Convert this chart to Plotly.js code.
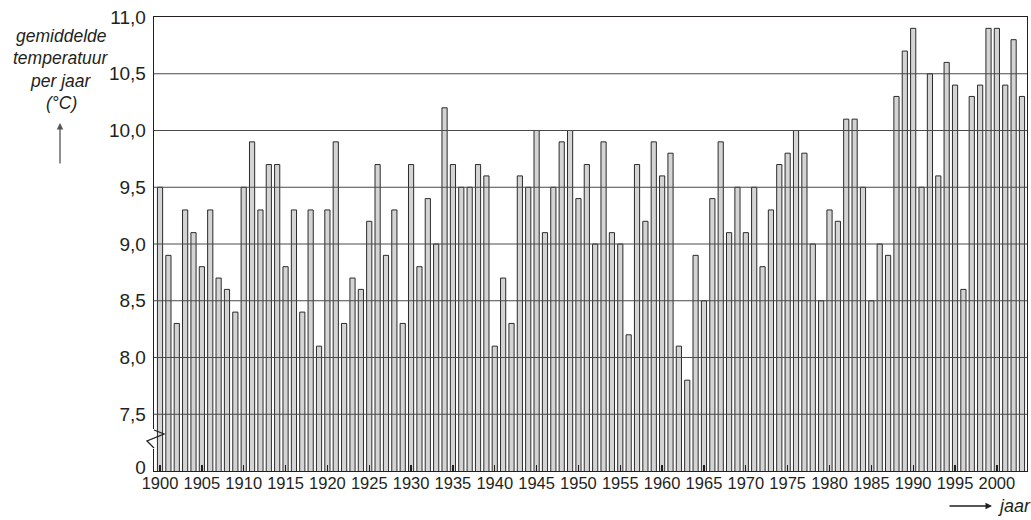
<!DOCTYPE html>
<html>
<head>
<meta charset="utf-8">
<script src="https://cdn.plot.ly/plotly-3.0.1.min.js"></script>
<style>
  html, body { margin: 0; padding: 0; background: #ffffff; }
  #chart { width: 1031px; height: 520px; }
</style>
</head>
<body>
<div id="chart"></div>
<script>
// ---- data ----
const years = [
  1900,1901,1902,1903,1904,1905,1906,1907,1908,1909,
  1910,1911,1912,1913,1914,1915,1916,1917,1918,1919,
  1920,1921,1922,1923,1924,1925,1926,1927,1928,1929,
  1930,1931,1932,1933,1934,1935,1936,1937,1938,1939,
  1940,1941,1942,1943,1944,1945,1946,1947,1948,1949,
  1950,1951,1952,1953,1954,1955,1956,1957,1958,1959,
  1960,1961,1962,1963,1964,1965,1966,1967,1968,1969,
  1970,1971,1972,1973,1974,1975,1976,1977,1978,1979,
  1980,1981,1982,1983,1984,1985,1986,1987,1988,1989,
  1990,1991,1992,1993,1994,1995,1996,1997,1998,1999,
  2000,2001,2002,2003
];
const temperatures = [
  9.5, 8.9, 8.3, 9.3, 9.1, 8.8, 9.3, 8.7, 8.6, 8.4,
  9.5, 9.9, 9.3, 9.7, 9.7, 8.8, 9.3, 8.4, 9.3, 8.1,
  9.3, 9.9, 8.3, 8.7, 8.6, 9.2, 9.7, 8.9, 9.3, 8.3,
  9.7, 8.8, 9.4, 9.0, 10.2, 9.7, 9.5, 9.5, 9.7, 9.6,
  8.1, 8.7, 8.3, 9.6, 9.5, 10.0, 9.1, 9.5, 9.9, 10.0,
  9.4, 9.7, 9.0, 9.9, 9.1, 9.0, 8.2, 9.7, 9.2, 9.9,
  9.6, 9.8, 8.1, 7.8, 8.9, 8.5, 9.4, 9.9, 9.1, 9.5,
  9.1, 9.5, 8.8, 9.3, 9.7, 9.8, 10.0, 9.8, 9.0, 8.5,
  9.3, 9.2, 10.1, 10.1, 9.5, 8.5, 9.0, 8.9, 10.3, 10.7,
  10.9, 9.5, 10.5, 9.6, 10.6, 10.4, 8.6, 10.3, 10.4, 10.9,
  10.9, 10.4, 10.8, 10.3
];
const xTickVals = [1900,1905,1910,1915,1920,1925,1930,1935,1940,1945,1950,1955,1960,1965,1970,1975,1980,1985,1990,1995,2000];
const yTickVals = [7.03, 7.5, 8.0, 8.5, 9.0, 9.5, 10.0, 10.5, 11.0];
const yTickText = ['0', '7,5', '8,0', '8,5', '9,0', '9,5', '10,0', '10,5', '11,0'];
const gridVals = [7.5, 8.0, 8.5, 9.0, 9.5, 10.0, 10.5];
const yTitleLines = ['gemiddelde', 'temperatuur', 'per jaar', '(°C)'];
const xTitle = 'jaar';

// ---- layout helpers (pixel -> paper) ----
const W = 1031, H = 520;
const M = { l: 154, r: 4, t: 17, b: 49 };
const PW = W - M.l - M.r, PH = H - M.t - M.b;
const px = x => (x - M.l) / PW;
const py = y => (H - M.b - y) / PH;
const Y0 = 7.0, Y1 = 11.0;
const dy = y => Y0 + (H - M.b - y) / PH * (Y1 - Y0);

const textColor = '#231f20';
const shapes = [];
gridVals.forEach(v => shapes.push({
  type: 'line', xref: 'paper', yref: 'y', x0: 0, x1: 1, y0: v, y1: v,
  line: { color: '#4a4a4a', width: 1 }, layer: 'above'
}));
// axis break: mask + zigzag
shapes.push({
  type: 'line', xref: 'paper', yref: 'y', x0: 0, x1: 0, y0: dy(449), y1: dy(429),
  line: { color: '#ffffff', width: 3 }, layer: 'above'
});
shapes.push({
  type: 'path', xref: 'paper', yref: 'y', layer: 'above',
  path: 'M ' + px(154) + ',' + dy(430) + ' L ' + px(164) + ',' + dy(434) +
        ' L ' + px(147) + ',' + dy(441) + ' L ' + px(154) + ',' + dy(448),
  line: { color: '#231f20', width: 1.3 }
});

const annotations = [];
const titleY = [36, 58, 81, 103];
yTitleLines.forEach((t, i) => annotations.push({
  text: t, xref: 'paper', yref: 'paper', x: px(61), y: py(titleY[i]),
  xanchor: 'center', yanchor: 'middle', showarrow: false,
  font: { family: 'Liberation Sans, Arial, sans-serif', size: 17.5, color: textColor, style: 'italic' }
}));
annotations.push({
  text: '', xref: 'paper', yref: 'paper', x: px(60), y: py(123),
  ax: 0, ay: 42, showarrow: true, arrowhead: 2, arrowsize: 1, arrowwidth: 1.3, arrowcolor: '#555555'
});
annotations.push({
  text: '', xref: 'paper', yref: 'paper', x: px(992), y: py(506),
  ax: -44, ay: 0, showarrow: true, arrowhead: 2, arrowsize: 1, arrowwidth: 1.3, arrowcolor: '#231f20'
});
annotations.push({
  text: xTitle, xref: 'paper', yref: 'paper', x: px(995), y: py(506),
  xanchor: 'left', yanchor: 'middle', showarrow: false,
  font: { family: 'Liberation Sans, Arial, sans-serif', size: 18, color: textColor, style: 'italic' }
});

const trace = {
  type: 'bar', x: years, y: temperatures, width: 0.62,
  marker: { color: '#d4d4d4', line: { color: '#2b2b2b', width: 1 } },
  hoverinfo: 'x+y'
};

const layout = {
  width: W, height: H,
  margin: M,
  paper_bgcolor: '#ffffff', plot_bgcolor: '#ffffff',
  showlegend: false,
  bargap: 0,
  xaxis: {
    range: [1899.28, 2003.6], tickmode: 'array', tickvals: xTickVals,
    ticks: 'inside', ticklen: 6, tickwidth: 1.3, tickcolor: '#231f20',
    tickangle: 0,
    showgrid: false, zeroline: false,
    showline: true, linecolor: '#231f20', linewidth: 1.3, mirror: true,
    tickfont: { family: 'Liberation Sans, Arial, sans-serif', size: 16.5, color: textColor },
    ticklabelstandoff: -3
  },
  yaxis: {
    range: [Y0, Y1], tickmode: 'array', tickvals: yTickVals, ticktext: yTickText,
    ticks: '', showgrid: false, zeroline: false,
    showline: true, linecolor: '#231f20', linewidth: 1.3, mirror: true,
    tickfont: { family: 'Liberation Sans, Arial, sans-serif', size: 19, color: textColor },
    ticklabelstandoff: 3
  },
  shapes: shapes,
  annotations: annotations
};

Plotly.newPlot('chart', [trace], layout, { staticPlot: true, displayModeBar: false });
</script>
</body>
</html>
